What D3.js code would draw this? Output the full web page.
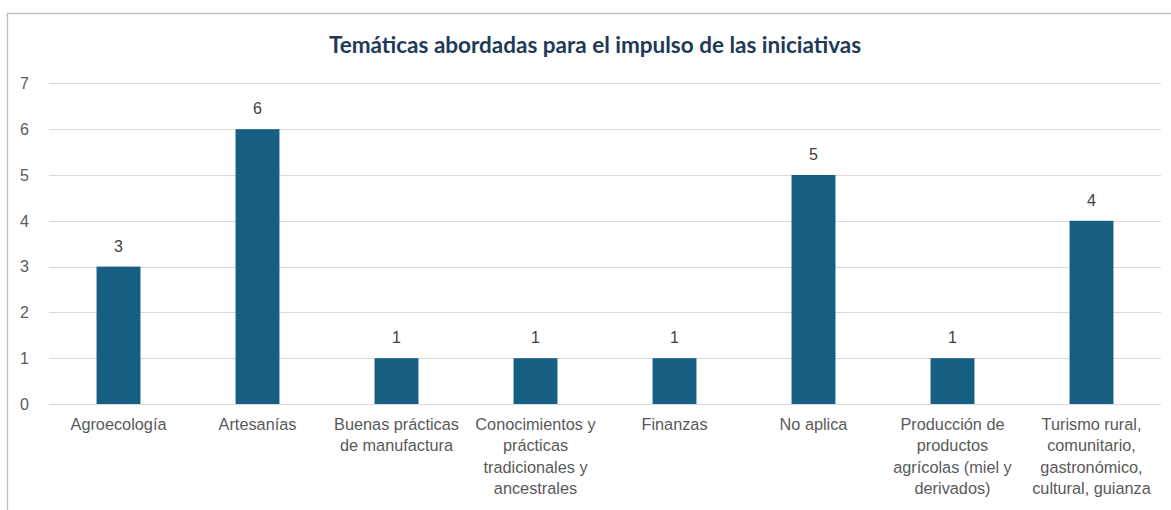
<!DOCTYPE html>
<html><head><meta charset="utf-8">
<script src="https://cdn.jsdelivr.net/npm/d3@7"></script>
<style>
html,body{margin:0;padding:0;background:#fff;}
svg{display:block;}
</style></head>
<body>
<svg id="chart" width="1171" height="510"></svg>
<script>
const title = "Temáticas abordadas para el impulso de las iniciativas";
const categories = [
  ["Agroecología"],
  ["Artesanías"],
  ["Buenas prácticas", "de manufactura"],
  ["Conocimientos y", "prácticas", "tradicionales y", "ancestrales"],
  ["Finanzas"],
  ["No aplica"],
  ["Producción de", "productos", "agrícolas (miel y", "derivados)"],
  ["Turismo rural,", "comunitario,", "gastronómico,", "cultural, guianza"]
];
const values = [3, 6, 1, 1, 1, 5, 1, 4];
const yTicks = [0, 1, 2, 3, 4, 5, 6, 7];

const FONT = "'Liberation Sans', Arial, sans-serif";
const svg = d3.select("#chart");
const m = {left: 49, right: 1161, top: 83.4, bottom: 404};

// frame
svg.append("path").attr("d", "M7.5,510 V13.5 H1171")
  .attr("fill", "none").attr("stroke", "#bfbfbf").attr("stroke-width", 1.3);

const x = d3.scaleBand().domain(d3.range(categories.length)).range([m.left, m.right]).paddingInner(0.684).paddingOuter(0.342);
const y = d3.scaleLinear().domain([0, 7]).range([m.bottom, m.top]);

// grid
svg.append("g").selectAll("line").data(yTicks).join("line")
  .attr("x1", m.left).attr("x2", m.right)
  .attr("y1", d => Math.round(y(d)) + 0.5).attr("y2", d => Math.round(y(d)) + 0.5)
  .attr("stroke", "#d9d9d9").attr("stroke-width", 1);

// y tick labels
svg.append("g").selectAll("text").data(yTicks).join("text")
  .attr("x", 29).attr("y", d => y(d)).attr("dy", "0.36em")
  .attr("text-anchor", "end")
  .style("font-family", FONT).attr("font-size", 16)
  .attr("fill", "#595959").text(d => d);

// bars
svg.append("g").selectAll("rect").data(values).join("rect")
  .attr("x", (d, i) => x(i)).attr("width", x.bandwidth())
  .attr("y", d => y(d)).attr("height", d => y(0) - y(d))
  .attr("fill", "#165f82");

// value labels
svg.append("g").selectAll("text").data(values).join("text")
  .attr("x", (d, i) => x(i) + x.bandwidth() / 2).attr("y", d => y(d) - 15)
  .attr("text-anchor", "middle")
  .style("font-family", FONT).attr("font-size", 16)
  .attr("fill", "#404040").text(d => d);

// category labels
const cl = svg.append("g").selectAll("text").data(categories).join("text")
  .attr("text-anchor", "middle")
  .style("font-family", FONT).attr("font-size", 16.3)
  .attr("fill", "#595959");
cl.each(function(lines, i) {
  const t = d3.select(this);
  lines.forEach((ln, j) => {
    t.append("tspan").attr("x", x(i) + x.bandwidth() / 2).attr("y", 430 + j * 21.4).text(ln);
  });
});

// title
svg.append("text").attr("x", 595).attr("y", 53).attr("text-anchor", "middle")
  .style("font-family", "Lato, Carlito, sans-serif").attr("font-weight", "bold").attr("font-size", 22.5)
  .attr("fill", "#1f3a56").text(title);
</script>
</body></html>
